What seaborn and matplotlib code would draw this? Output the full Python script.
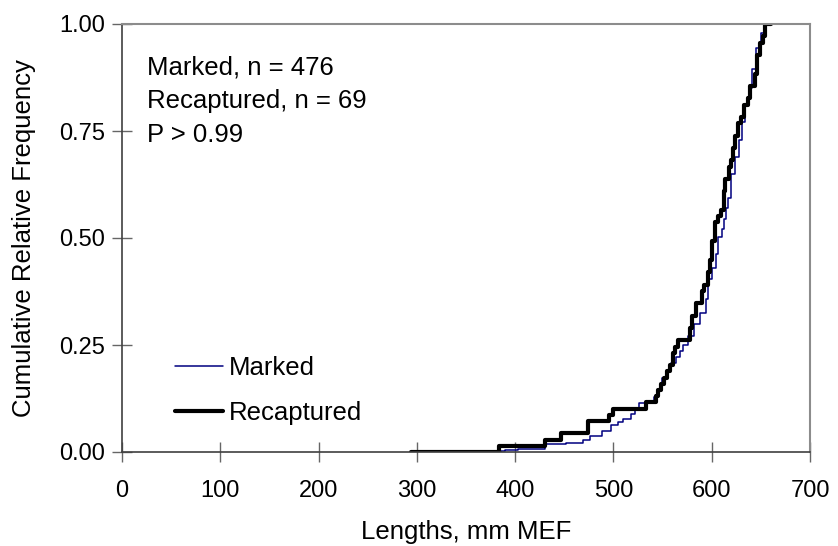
import matplotlib
matplotlib.use("Agg")
import matplotlib.pyplot as plt
import seaborn as sns
import pandas as pd
from matplotlib.ticker import FormatStrFormatter

# ---- data (step knots of the cumulative curves) ----
marked_len = [294, 386, 390, 403, 430, 452, 469, 476, 488, 498, 505, 510, 518, 522,
              526, 534, 541, 544, 549, 554, 559, 564, 568, 571, 576, 582, 588, 594,
              596, 600, 604, 606, 610, 612, 615, 617, 620, 624, 628, 631, 634, 638,
              641, 645, 650, 654, 658]
marked_cum = [0.0, 0.002, 0.004, 0.008, 0.018, 0.022, 0.027, 0.037, 0.049, 0.063, 0.070,
              0.076, 0.088, 0.100, 0.115, 0.120, 0.128, 0.146, 0.173, 0.192, 0.208, 0.221,
              0.235, 0.250, 0.270, 0.300, 0.324, 0.357, 0.405, 0.430, 0.462, 0.503, 0.520,
              0.544, 0.570, 0.593, 0.650, 0.690, 0.730, 0.770, 0.810, 0.850, 0.894, 0.943,
              0.980, 1.000, 1.000]

recap_len = [294, 384, 430, 447, 474, 496, 500, 533, 543, 545, 548, 551, 555, 558, 561,
             563, 566, 578, 580, 584, 590, 592, 596, 598, 600, 603, 606, 609, 612, 614,
             618, 620, 622, 624, 627, 630, 633, 637, 639, 644, 646, 649, 652, 654, 660]
recap_count = [0, 1, 2, 3, 5, 6, 7, 8, 9, 10, 11, 12, 13, 14, 16, 17, 18, 20, 22, 24, 26,
               27, 29, 31, 34, 37, 38, 39, 42, 44, 46, 47, 49, 51, 53, 54, 56, 57, 59, 61,
               64, 66, 67, 69, 69]
recap_n = 69
marked_n = 476

x_ticks = [0, 100, 200, 300, 400, 500, 600, 700]
y_ticks = [0.0, 0.25, 0.5, 0.75, 1.0]
annot_lines = [f"Marked, n = {marked_n}", f"Recaptured, n = {recap_n}", "P > 0.99"]

# ---- build frames ----
df_m = pd.DataFrame({"len": marked_len, "cum": marked_cum})
df_r = pd.DataFrame({"len": recap_len, "cum": [c / recap_n for c in recap_count]})

sns.set_theme(style="white")
plt.rcParams["font.family"] = ["Liberation Sans", "DejaVu Sans"]
plt.rcParams["text.color"] = "black"
plt.rcParams["axes.labelcolor"] = "black"

fig = plt.figure(figsize=(8.38, 5.46), dpi=100)
ax = fig.add_axes([122 / 838, 1 - 452 / 546, (810 - 122) / 838, (452 - 24) / 546])

sns.lineplot(data=df_m, x="len", y="cum", ax=ax, color="#000080", linewidth=1.1,
             drawstyle="steps-post", estimator=None, sort=False, label="Marked")
sns.lineplot(data=df_r, x="len", y="cum", ax=ax, color="black", linewidth=3.0,
             drawstyle="steps-post", estimator=None, sort=False, label="Recaptured")

ax.set_xlim(0, 700)
ax.set_ylim(0, 1.0)
ax.set_xticks(x_ticks)
ax.set_yticks(y_ticks)
ax.yaxis.set_major_formatter(FormatStrFormatter("%.2f"))

ax.tick_params(axis="both", which="major", bottom=True, left=True, top=False, right=False,
               direction="inout", length=14, width=1.0, color="#666666",
               labelsize=17, labelcolor="black")
ax.tick_params(axis="y", pad=5)
ax.tick_params(axis="x", pad=13)

for side in ["left", "bottom"]:
    ax.spines[side].set_color("#404040")
    ax.spines[side].set_linewidth(1.2)
for side in ["top", "right"]:
    ax.spines[side].set_visible(True)
    ax.spines[side].set_color("#8c8c8c")
    ax.spines[side].set_linewidth(1.5)

ax.set_xlabel("Lengths, mm MEF", fontsize=18.5, labelpad=13)
ax.set_ylabel("Cumulative Relative Frequency", fontsize=18.5, labelpad=17)

for y, t in zip([0.883, 0.804, 0.725], annot_lines):
    ax.text(0.036, y, t, transform=ax.transAxes, fontsize=18.5, ha="left", va="baseline",
            color="black")

leg = ax.legend(loc="center left", bbox_to_anchor=(0.077, 0.144), frameon=False,
                fontsize=18.5, handlelength=1.85, handletextpad=0.25, labelspacing=0.8,
                borderpad=0, borderaxespad=0)
for t in leg.get_texts():
    t.set_color("black")

fig.savefig("out.png", dpi=100)
